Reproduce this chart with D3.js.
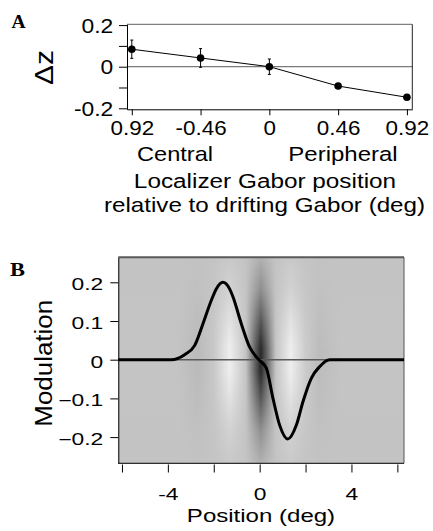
<!DOCTYPE html>
<html>
<head>
<meta charset="UTF-8">
<script src="https://d3js.org/d3.v7.min.js"></script>
<style>
  body { margin: 0; background: #fff; }
  text { font-family: "Liberation Sans", Arial, sans-serif; fill: #000; }
  .serif { font-family: "Liberation Serif", "Times New Roman", serif; font-weight: bold; }
</style>
</head>
<body>
<div id="chart"></div>
<script>
// ---- panel A : delta z vs localizer position
const aPos = [-0.92, -0.46, 0, 0.46, 0.92];
const aTickLabels = ["0.92", "-0.46", "0", "0.46", "0.92"];
const aDz = [0.084, 0.042, 0.0, -0.093, -0.147];
const aErr = [0.044, 0.045, 0.037, 0.010, 0.005];
const aYTicks = [0.2, 0.1, 0, -0.1, -0.2];
const aYLabels = ["0.2", "", "0", "", "-0.2"];

// ---- panel B : modulation profile
const bPos = [-6.16, -3.85, -3.27, -2.83, -2.47, -2.11, -1.89, -1.6, -1.31, -1.16, -0.8, -0.44, -0.07,
              0.29, 0.58, 0.87, 1.23, 1.6, 1.89, 2.25, 2.61, 3.05, 6.29];
const bMod = [0, 0, 0.013, 0.037, 0.093, 0.153, 0.183, 0.2, 0.183, 0.162, 0.093, 0.033, 0.002,
              -0.022, -0.1, -0.169, -0.205, -0.169, -0.108, -0.048, -0.018, 0, 0];
const bXTicks = [-6, -4, -2, 0, 2, 4, 6];
const bXLabels = { "-4": "-4", "0": "0", "4": "4" };
const bYTicks = [0.2, 0.1, 0, -0.1, -0.2];

// background gabor (gray level across x, strength along y)
const bgX = [-6.16, -3.6, -2.7, -2.0, -1.3, -0.6, -0.25, 0.05, 0.35, 0.7, 1.35, 2.0, 2.6, 3.5, 6.29];
const bgGray = [196, 196, 186, 200, 238, 196, 110, 40, 110, 196, 238, 203, 188, 196, 196];
const envY = [0.265, 0.18, 0.09, 0.03, -0.03, -0.09, -0.18, -0.268];
const envVal = [0.12, 0.35, 0.75, 1, 1, 0.75, 0.35, 0.12];

const svg = d3.select("#chart").append("svg")
  .attr("width", 433).attr("height", 531);

// stretched text helper
function stext(g, x, y, str, size, sx, anchor, rot) {
  return g.append("text")
    .attr("transform", "translate(" + x + "," + y + ")" + (rot ? " rotate(" + rot + ")" : "") + " scale(" + sx + ",1)")
    .attr("text-anchor", anchor || "middle")
    .style("font-size", size + "px")
    .text(str);
}

// ================= panel A
const ax = d3.scaleLinear().domain([-0.952, 0.956]).range([127, 412.3]);
const ay = d3.scaleLinear().domain([-0.2048, 0.2038]).range([109.3, 24.3]);
const gA = svg.append("g");

gA.append("line").attr("x1", ax.range()[0]).attr("x2", ax.range()[1])
  .attr("y1", ay(0)).attr("y2", ay(0)).attr("stroke", "#7a7a7a").attr("stroke-width", 1.2);
gA.append("line").attr("x1", ax.range()[0]).attr("x2", ax.range()[1])
  .attr("y1", ay.range()[1]).attr("y2", ay.range()[1]).attr("stroke", "#808080").attr("stroke-width", 1.3);
gA.append("line").attr("x1", ax.range()[1]).attr("x2", ax.range()[1])
  .attr("y1", ay.range()[1]).attr("y2", ay.range()[0]).attr("stroke", "#222").attr("stroke-width", 1);

const yAxA = gA.append("g").attr("transform", "translate(127,0)")
  .call(d3.axisLeft(ay).tickValues(aYTicks).tickSize(8).tickSizeOuter(0).tickFormat((d, i) => aYLabels[i]));
const xAxA = gA.append("g").attr("transform", "translate(0,109.3)")
  .call(d3.axisBottom(ax).tickValues(aPos).tickSize(6).tickSizeOuter(0).tickFormat((d, i) => aTickLabels[i]));
[yAxA, xAxA].forEach(a => {
  a.select(".domain").attr("stroke", "#000");
  a.selectAll(".tick line").attr("stroke", "#000");
  a.selectAll("text").style("font-size", "19.5px").style("font-family", "Liberation Sans, Arial, sans-serif");
});
yAxA.selectAll("text").attr("x", 0).attr("dy", null).attr("y", 0)
  .attr("transform", "translate(-13.7,7) scale(1.17,1)");
xAxA.selectAll("text").attr("y", 0).attr("dy", null)
  .attr("transform", "translate(0,25.2) scale(1.15,1)");

const line = d3.line().x(d => ax(d[0])).y(d => ay(d[1]));
gA.append("path").datum(aPos.map((p, i) => [p, aDz[i]]))
  .attr("d", line).attr("fill", "none").attr("stroke", "#000").attr("stroke-width", 1);
const pts = gA.selectAll(".pt").data(aPos.map((p, i) => ({ p: p, v: aDz[i], e: aErr[i] }))).enter().append("g");
pts.append("line").attr("x1", d => ax(d.p)).attr("x2", d => ax(d.p))
  .attr("y1", d => ay(d.v + d.e)).attr("y2", d => ay(d.v - d.e)).attr("stroke", "#000");
pts.append("line").attr("x1", d => ax(d.p) - 1.5).attr("x2", d => ax(d.p) + 1.5)
  .attr("y1", d => ay(d.v + d.e)).attr("y2", d => ay(d.v + d.e)).attr("stroke", "#000");
pts.append("line").attr("x1", d => ax(d.p) - 1.5).attr("x2", d => ax(d.p) + 1.5)
  .attr("y1", d => ay(d.v - d.e)).attr("y2", d => ay(d.v - d.e)).attr("stroke", "#000");
pts.append("circle").attr("cx", d => ax(d.p)).attr("cy", d => ay(d.v)).attr("r", 3.8).attr("fill", "#000");

svg.append("text").attr("class", "serif").attr("x", 11.5).attr("y", 28).style("font-size", "19.5px").text("A");
stext(gA, 53.3, 67.5, "\u0394z", 25.5, 1.17, "middle", -90);
stext(gA, 175, 160.7, "Central", 20.5, 1.15);
stext(gA, 343, 160.7, "Peripheral", 20.5, 1.17);
stext(gA, 265, 188.3, "Localizer Gabor position", 20.8, 1.17);
stext(gA, 264.5, 211.7, "relative to drifting Gabor (deg)", 20.5, 1.18);

// ================= panel B
const bx = d3.scaleLinear().domain([-6.16, 6.29]).range([118.3, 404]);
const by = d3.scaleLinear().domain([-0.2677, 0.2646]).range([463.3, 257.3]);
const gB = svg.append("g");
const bw = bx.range()[1] - bx.range()[0];

const defs = svg.append("defs");
const gx = defs.append("linearGradient").attr("id", "gx")
  .attr("gradientUnits", "userSpaceOnUse")
  .attr("x1", bx.range()[0]).attr("x2", bx.range()[1]).attr("y1", 0).attr("y2", 0);
bgX.forEach((p, i) => gx.append("stop")
  .attr("offset", (bx(p) - bx.range()[0]) / bw)
  .attr("stop-color", d3.rgb(bgGray[i], bgGray[i], bgGray[i])));
const gy = defs.append("linearGradient").attr("id", "gy")
  .attr("gradientUnits", "userSpaceOnUse")
  .attr("x1", 0).attr("x2", 0).attr("y1", by.range()[1]).attr("y2", by.range()[0]);
const bh = by.range()[0] - by.range()[1];
envY.forEach((v, i) => gy.append("stop")
  .attr("offset", (by(v) - by.range()[1]) / bh)
  .attr("stop-color", d3.rgb(255 * envVal[i], 255 * envVal[i], 255 * envVal[i])));
defs.append("mask").attr("id", "gm")
  .append("rect").attr("x", bx.range()[0]).attr("y", by.range()[1]).attr("width", bw).attr("height", bh)
  .attr("fill", "url(#gy)");

gB.append("rect").attr("x", bx.range()[0]).attr("y", by.range()[1]).attr("width", bw).attr("height", bh)
  .attr("fill", "rgb(196,196,196)");
gB.append("rect").attr("x", bx.range()[0]).attr("y", by.range()[1]).attr("width", bw).attr("height", bh)
  .attr("fill", "url(#gx)").attr("mask", "url(#gm)");

gB.append("line").attr("x1", bx.range()[0]).attr("x2", bx.range()[1])
  .attr("y1", by(0)).attr("y2", by(0)).attr("stroke", "#5a5a5a").attr("stroke-width", 1.5);
gB.append("line").attr("x1", bx.range()[0]).attr("x2", bx.range()[1])
  .attr("y1", by.range()[1]).attr("y2", by.range()[1]).attr("stroke", "#5a5a5a").attr("stroke-width", 2);
gB.append("line").attr("x1", bx.range()[1]).attr("x2", bx.range()[1])
  .attr("y1", by.range()[1]).attr("y2", by.range()[0]).attr("stroke", "#555").attr("stroke-width", 1);
gB.append("line").attr("x1", bx.range()[0]).attr("x2", bx.range()[1])
  .attr("y1", by.range()[0]).attr("y2", by.range()[0]).attr("stroke", "#000").attr("stroke-width", 1);

const yAxB = gB.append("g").attr("transform", "translate(118.3,0)")
  .call(d3.axisLeft(by).tickValues(bYTicks).tickSize(8).tickSizeOuter(0).tickFormat(d3.format("")));
const xAxB = gB.append("g").attr("transform", "translate(0,464.5)")
  .call(d3.axisBottom(bx).tickValues(bXTicks).tickSize(8).tickSizeOuter(0).tickFormat(d => bXLabels[d] || ""));
xAxB.select(".domain").remove();
[yAxB, xAxB].forEach(a => {
  a.select(".domain").attr("stroke", "#000");
  a.selectAll(".tick line").attr("stroke", "#000");
  a.selectAll("text").style("font-size", "16.3px").style("font-family", "Liberation Sans, Arial, sans-serif");
});
yAxB.selectAll("text").attr("x", 0).attr("dy", null).attr("y", 0)
  .attr("transform", "translate(-15,7.3) scale(1.4,1)");
xAxB.selectAll("text").attr("y", 0).attr("dy", null)
  .attr("transform", "translate(0,35.5) scale(1.4,1)");

gB.append("path").datum(bPos.map((p, i) => [p, bMod[i]]))
  .attr("d", d3.line().x(d => bx(d[0])).y(d => by(d[1])).curve(d3.curveMonotoneX))
  .attr("fill", "none").attr("stroke", "#000").attr("stroke-width", 3);

stext(gB, 10, 276, "B", 19, 1.18, "start").attr("class", "serif");
stext(gB, 51.7, 363.3, "Modulation", 24, 1.08, "middle", -90);
stext(gB, 261, 521.7, "Position (deg)", 18.5, 1.3);
</script>
</body>
</html>
